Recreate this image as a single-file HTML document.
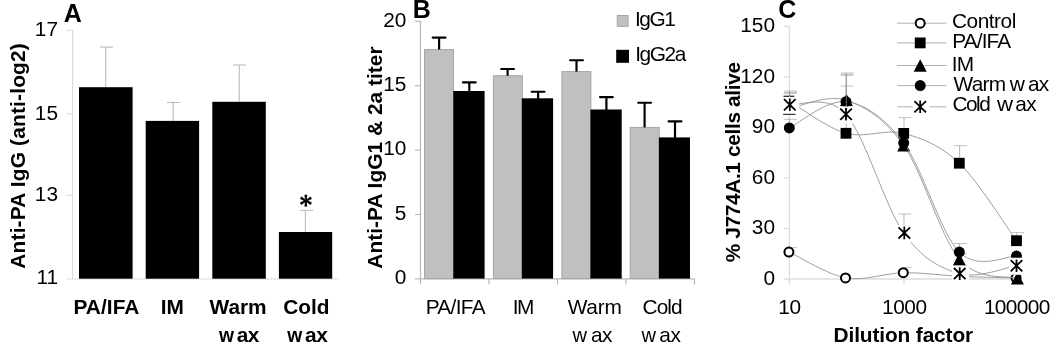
<!DOCTYPE html>
<html lang="en"><head><meta charset="utf-8"><title>Figure</title>
<style>
html,body{margin:0;padding:0;background:#fff;}
body{width:1050px;height:350px;overflow:hidden;}
svg{display:block;}
text{font-family:"Liberation Sans",Arial,Helvetica,sans-serif;fill:#000;}
</style></head>
<body>
<svg width="1050" height="350" viewBox="0 0 1050 350">
<rect width="1050" height="350" fill="#fff"/>
<line x1="72.6" y1="29.8" x2="72.6" y2="279.5" stroke="#dcdcdc" stroke-width="1.2"/>
<line x1="66.6" y1="279.0" x2="339.0" y2="279.0" stroke="#dcdcdc" stroke-width="1.2"/>
<line x1="66.6" y1="30.3" x2="72.6" y2="30.3" stroke="#dcdcdc" stroke-width="1.2"/>
<text x="58.0" y="35.9" font-size="20.83" text-anchor="end">17</text>
<line x1="66.6" y1="113.9" x2="72.6" y2="113.9" stroke="#dcdcdc" stroke-width="1.2"/>
<text x="58.0" y="119.5" font-size="20.83" text-anchor="end">15</text>
<line x1="66.6" y1="195.3" x2="72.6" y2="195.3" stroke="#dcdcdc" stroke-width="1.2"/>
<text x="58.0" y="200.9" font-size="20.83" text-anchor="end">13</text>
<text x="58.0" y="284.3" font-size="20.83" text-anchor="end">11</text>
<line x1="105.7" y1="47.1" x2="105.7" y2="87.2" stroke="#bcbcbc" stroke-width="1.1"/>
<line x1="100.0" y1="47.1" x2="113.0" y2="47.1" stroke="#bcbcbc" stroke-width="1.1"/>
<rect x="79.00" y="87.20" width="53.60" height="191.50" fill="#000"/>
<line x1="173.2" y1="102.5" x2="173.2" y2="120.9" stroke="#bcbcbc" stroke-width="1.1"/>
<line x1="166.9" y1="102.5" x2="179.6" y2="102.5" stroke="#bcbcbc" stroke-width="1.1"/>
<rect x="145.70" y="120.90" width="53.40" height="157.80" fill="#000"/>
<line x1="239.3" y1="65.0" x2="239.3" y2="101.8" stroke="#bcbcbc" stroke-width="1.1"/>
<line x1="233.0" y1="65.0" x2="246.0" y2="65.0" stroke="#bcbcbc" stroke-width="1.1"/>
<rect x="212.30" y="101.80" width="53.50" height="176.90" fill="#000"/>
<line x1="305.4" y1="210.4" x2="305.4" y2="232.0" stroke="#bcbcbc" stroke-width="1.1"/>
<line x1="300.2" y1="210.4" x2="313.0" y2="210.4" stroke="#bcbcbc" stroke-width="1.1"/>
<rect x="278.90" y="232.00" width="53.30" height="46.70" fill="#000"/>
<text x="73.47" y="314.3" font-size="20.83" font-weight="bold" letter-spacing="0.058">PA/IFA</text>
<text x="160.65" y="314.3" font-size="20.83" font-weight="bold" letter-spacing="0.153">IM</text>
<text x="209.54" y="314.3" font-size="20.83" font-weight="bold" letter-spacing="-0.027">Warm</text>
<text x="283.28" y="314.3" font-size="20.83" font-weight="bold" letter-spacing="-0.060">Cold</text>
<text x="218.9" y="342.1" font-size="20.83" font-weight="bold"><tspan x="218.9" textLength="15.0" lengthAdjust="spacingAndGlyphs">w</tspan><tspan x="236.7" letter-spacing="-0.4">ax</tspan></text>
<text x="287.3" y="342.1" font-size="20.83" font-weight="bold"><tspan x="287.3" textLength="15.0" lengthAdjust="spacingAndGlyphs">w</tspan><tspan x="305.1" letter-spacing="-0.4">ax</tspan></text>
<text transform="translate(24.8 268.67) rotate(-90)" font-size="20.83" font-weight="bold" letter-spacing="0.200">Anti-PA IgG (anti-log2)</text>
<text x="63.69" y="22.4" font-size="25" font-weight="bold">A</text>
<text x="305.8" y="213.2" font-size="23.5" font-weight="bold" text-anchor="middle" stroke="#000" stroke-width="0.5" style="font-family:'DejaVu Serif',serif">*</text>
<line x1="420.5" y1="20.9" x2="420.5" y2="284.6" stroke="#b8b8b8" stroke-width="1.2"/>
<line x1="415.0" y1="278.8" x2="694.5" y2="278.8" stroke="#b8b8b8" stroke-width="1.2"/>
<text x="406.4" y="284.2" font-size="20.83" text-anchor="end">0</text>
<line x1="415.0" y1="214.52499999999998" x2="420.5" y2="214.52499999999998" stroke="#b8b8b8" stroke-width="1.2"/>
<text x="406.4" y="219.825" font-size="20.83" text-anchor="end">5</text>
<line x1="415.0" y1="150.14999999999998" x2="420.5" y2="150.14999999999998" stroke="#b8b8b8" stroke-width="1.2"/>
<text x="406.4" y="155.45" font-size="20.83" text-anchor="end">10</text>
<line x1="415.0" y1="85.77499999999998" x2="420.5" y2="85.77499999999998" stroke="#b8b8b8" stroke-width="1.2"/>
<text x="406.4" y="91.07499999999997" font-size="20.83" text-anchor="end">15</text>
<line x1="415.0" y1="21.399999999999977" x2="420.5" y2="21.399999999999977" stroke="#b8b8b8" stroke-width="1.2"/>
<text x="406.4" y="26.699999999999978" font-size="20.83" text-anchor="end">20</text>
<line x1="489.0" y1="278.8" x2="489.0" y2="284.6" stroke="#b8b8b8" stroke-width="1.2"/>
<line x1="557.5" y1="278.8" x2="557.5" y2="284.6" stroke="#b8b8b8" stroke-width="1.2"/>
<line x1="626.0" y1="278.8" x2="626.0" y2="284.6" stroke="#b8b8b8" stroke-width="1.2"/>
<line x1="694.5" y1="278.8" x2="694.5" y2="284.6" stroke="#b8b8b8" stroke-width="1.2"/>
<rect x="424.50" y="49.50" width="29.00" height="229.10" fill="#c0c0c0" stroke="#a6a6a6" stroke-width="1"/>
<rect x="453.30" y="91.00" width="31.30" height="187.60" fill="#000"/>
<line x1="439.1" y1="37.6" x2="439.1" y2="49.5" stroke="#000" stroke-width="2.2"/>
<line x1="432.70" y1="37.6" x2="445.50" y2="37.6" stroke="#000" stroke-width="2.1" stroke-linecap="round"/>
<line x1="469.3" y1="82.4" x2="469.3" y2="91.5" stroke="#000" stroke-width="2.2"/>
<line x1="462.90" y1="82.4" x2="475.70" y2="82.4" stroke="#000" stroke-width="2.1" stroke-linecap="round"/>
<rect x="493.40" y="75.70" width="29.00" height="202.90" fill="#c0c0c0" stroke="#a6a6a6" stroke-width="1"/>
<rect x="521.80" y="98.30" width="31.30" height="180.30" fill="#000"/>
<line x1="507.6" y1="69.0" x2="507.6" y2="75.7" stroke="#000" stroke-width="2.2"/>
<line x1="501.20" y1="69.0" x2="514.00" y2="69.0" stroke="#000" stroke-width="2.1" stroke-linecap="round"/>
<line x1="538.1" y1="91.7" x2="538.1" y2="98.8" stroke="#000" stroke-width="2.2"/>
<line x1="531.70" y1="91.7" x2="544.50" y2="91.7" stroke="#000" stroke-width="2.1" stroke-linecap="round"/>
<rect x="561.90" y="71.60" width="29.00" height="207.00" fill="#c0c0c0" stroke="#a6a6a6" stroke-width="1"/>
<rect x="590.40" y="109.50" width="31.30" height="169.10" fill="#000"/>
<line x1="576.5" y1="60.2" x2="576.5" y2="71.6" stroke="#000" stroke-width="2.2"/>
<line x1="570.10" y1="60.2" x2="582.90" y2="60.2" stroke="#000" stroke-width="2.1" stroke-linecap="round"/>
<line x1="606.4" y1="97.1" x2="606.4" y2="110.0" stroke="#000" stroke-width="2.2"/>
<line x1="600.00" y1="97.1" x2="612.80" y2="97.1" stroke="#000" stroke-width="2.1" stroke-linecap="round"/>
<rect x="630.20" y="127.40" width="29.00" height="151.20" fill="#c0c0c0" stroke="#a6a6a6" stroke-width="1"/>
<rect x="658.90" y="137.40" width="31.10" height="141.20" fill="#000"/>
<line x1="644.6" y1="102.8" x2="644.6" y2="127.4" stroke="#000" stroke-width="2.2"/>
<line x1="638.20" y1="102.8" x2="651.00" y2="102.8" stroke="#000" stroke-width="2.1" stroke-linecap="round"/>
<line x1="675.0" y1="121.4" x2="675.0" y2="137.9" stroke="#000" stroke-width="2.2"/>
<line x1="668.60" y1="121.4" x2="681.40" y2="121.4" stroke="#000" stroke-width="2.1" stroke-linecap="round"/>
<text x="425.72" y="313.6" font-size="20.83" letter-spacing="-0.693">PA/IFA</text>
<text x="512.86" y="313.6" font-size="20.83" letter-spacing="-1.584">IM</text>
<text x="567.64" y="313.6" font-size="20.83" letter-spacing="-0.183">Warm</text>
<text x="642.55" y="313.6" font-size="20.83" letter-spacing="-0.912">Cold</text>
<text x="572.6" y="341.6" font-size="20.83"><tspan x="572.6" textLength="14.5" lengthAdjust="spacingAndGlyphs">w</tspan><tspan x="590.9" letter-spacing="-0.5">ax</tspan></text>
<text x="641.4" y="341.6" font-size="20.83"><tspan x="641.4" textLength="14.5" lengthAdjust="spacingAndGlyphs">w</tspan><tspan x="659.3" letter-spacing="-0.5">ax</tspan></text>
<text transform="translate(382.1 268.63) rotate(-90)" font-size="20.83" font-weight="bold" letter-spacing="0.052">Anti-PA IgG1 &amp; 2a titer</text>
<text x="412.83" y="17.7" font-size="25" font-weight="bold">B</text>
<rect x="617.30" y="15.50" width="10.80" height="10.80" fill="#c0c0c0" stroke="#a6a6a6" stroke-width="1"/>
<rect x="616.20" y="49.80" width="12.80" height="13.00" fill="#000"/>
<text x="634.92" y="26.0" font-size="20.83" letter-spacing="-1.371">IgG1</text>
<text x="635.16" y="61.0" font-size="20.83" letter-spacing="-1.384">IgG2a</text>
<line x1="789.4" y1="26.0" x2="789.4" y2="284.6" stroke="#dcdcdc" stroke-width="1.3"/>
<line x1="783.8" y1="279.0" x2="1019.0" y2="279.0" stroke="#dcdcdc" stroke-width="1.3"/>
<text x="775.0" y="284.5" font-size="20.83" text-anchor="end">0</text>
<line x1="783.8" y1="228.5001" x2="789.4" y2="228.5001" stroke="#dcdcdc" stroke-width="1.3"/>
<text x="775.0" y="234.0001" font-size="20.83" text-anchor="end">30</text>
<line x1="783.8" y1="178.0002" x2="789.4" y2="178.0002" stroke="#dcdcdc" stroke-width="1.3"/>
<text x="775.0" y="183.5002" font-size="20.83" text-anchor="end">60</text>
<line x1="783.8" y1="127.50030000000001" x2="789.4" y2="127.50030000000001" stroke="#dcdcdc" stroke-width="1.3"/>
<text x="775.0" y="133.0003" font-size="20.83" text-anchor="end">90</text>
<line x1="783.8" y1="77.00040000000001" x2="789.4" y2="77.00040000000001" stroke="#dcdcdc" stroke-width="1.3"/>
<text x="775.0" y="82.50040000000001" font-size="20.83" text-anchor="end">120</text>
<line x1="783.8" y1="26.500499999999988" x2="789.4" y2="26.500499999999988" stroke="#dcdcdc" stroke-width="1.3"/>
<text x="775.0" y="32.00049999999999" font-size="20.83" text-anchor="end">150</text>
<line x1="904.0" y1="279.0" x2="904.0" y2="284.6" stroke="#dcdcdc" stroke-width="1.3"/>
<line x1="1018.6" y1="279.0" x2="1018.6" y2="284.6" stroke="#dcdcdc" stroke-width="1.3"/>
<text x="778.14" y="314.0" font-size="20.83" letter-spacing="-0.189">10</text>
<text x="882.02" y="314.0" font-size="20.83" letter-spacing="-0.414">1000</text>
<text x="983.9" y="314.0" font-size="20.83" letter-spacing="-0.620">100000</text>
<text x="833.61" y="342.0" font-size="20.83" font-weight="bold" letter-spacing="-0.119">Dilution factor</text>
<text transform="translate(739.9 262.33) rotate(-90)" font-size="20.83" font-weight="bold" letter-spacing="-0.347">% J774A.1 cells alive</text>
<text x="778.3" y="18.2" font-size="25" font-weight="bold">C</text>
<path d="M789.3,252.1 C798.8,256.4 826.9,274.5 846.0,277.9 C865.1,281.3 884.8,273.0 903.7,272.7 C922.6,272.4 940.5,275.4 959.3,276.3 C978.1,277.2 1007.0,277.7 1016.5,278.0" fill="none" stroke="#949494" stroke-width="0.9"/>
<line x1="789.5999999999999" y1="247.6" x2="789.5999999999999" y2="252.1" stroke="#9a9a9a" stroke-width="0.7"/>
<line x1="789.3" y1="247.6" x2="796.9" y2="247.6" stroke="#909090" stroke-width="0.55"/>
<line x1="904.0" y1="267.6" x2="904.0" y2="272.7" stroke="#9a9a9a" stroke-width="0.7"/>
<line x1="903.7" y1="267.6" x2="911.3000000000001" y2="267.6" stroke="#909090" stroke-width="0.55"/>
<circle cx="788.9" cy="252.1" r="4.5" fill="#fff" stroke="#000" stroke-width="2"/>
<circle cx="845.5" cy="277.9" r="4.5" fill="#fff" stroke="#000" stroke-width="2"/>
<circle cx="903.3" cy="272.7" r="4.5" fill="#fff" stroke="#000" stroke-width="2"/>
<circle cx="959.3" cy="276.3" r="4.5" fill="#fff" stroke="#000" stroke-width="2"/>
<circle cx="1016.1" cy="278.0" r="4.5" fill="#fff" stroke="#000" stroke-width="2"/>
<path d="M789.3,101.1 C798.8,106.5 826.9,127.9 846.0,133.3 C865.1,138.7 884.8,128.4 903.7,133.4 C922.6,138.4 940.5,145.3 959.3,163.2 C978.1,181.1 1007.0,227.8 1016.5,240.7" fill="none" stroke="#949494" stroke-width="0.9"/>
<line x1="789.5999999999999" y1="91.1" x2="789.5999999999999" y2="101.1" stroke="#9a9a9a" stroke-width="0.7"/>
<line x1="784.0999999999999" y1="91.1" x2="796.9" y2="91.1" stroke="#909090" stroke-width="0.55"/>
<line x1="846.3" y1="86.1" x2="846.3" y2="133.3" stroke="#9a9a9a" stroke-width="0.7"/>
<line x1="840.8" y1="86.1" x2="853.6" y2="86.1" stroke="#909090" stroke-width="0.55"/>
<line x1="904.0" y1="117.6" x2="904.0" y2="133.4" stroke="#9a9a9a" stroke-width="0.7"/>
<line x1="898.5" y1="117.6" x2="911.3000000000001" y2="117.6" stroke="#909090" stroke-width="0.55"/>
<line x1="959.5999999999999" y1="145.7" x2="959.5999999999999" y2="163.2" stroke="#9a9a9a" stroke-width="0.7"/>
<line x1="954.0999999999999" y1="145.7" x2="966.9" y2="145.7" stroke="#909090" stroke-width="0.55"/>
<line x1="1016.8" y1="232.6" x2="1016.8" y2="240.7" stroke="#9a9a9a" stroke-width="0.7"/>
<line x1="1011.3" y1="232.6" x2="1024.1" y2="232.6" stroke="#909090" stroke-width="0.55"/>
<rect x="783.50" y="95.70" width="10.80" height="10.80" fill="#000"/>
<rect x="840.60" y="127.90" width="10.80" height="10.80" fill="#000"/>
<rect x="898.30" y="128.00" width="10.80" height="10.80" fill="#000"/>
<rect x="953.90" y="157.80" width="10.80" height="10.80" fill="#000"/>
<rect x="1011.10" y="235.30" width="10.80" height="10.80" fill="#000"/>
<path d="M789.3,108.5 C798.8,107.1 826.9,93.9 846.0,100.1 C865.1,106.2 884.8,118.9 903.7,145.4 C922.6,171.9 940.5,237.0 959.3,259.2 C978.1,281.3 1007.0,275.1 1016.5,278.3" fill="none" stroke="#949494" stroke-width="0.9"/>
<line x1="789.5999999999999" y1="92.4" x2="789.5999999999999" y2="108.5" stroke="#9a9a9a" stroke-width="0.7"/>
<line x1="784.0999999999999" y1="92.4" x2="796.9" y2="92.4" stroke="#909090" stroke-width="0.55"/>
<line x1="846.3" y1="75.4" x2="846.3" y2="100.1" stroke="#9a9a9a" stroke-width="0.7"/>
<line x1="840.8" y1="75.4" x2="853.6" y2="75.4" stroke="#909090" stroke-width="0.55"/>
<line x1="959.5999999999999" y1="254.0" x2="959.5999999999999" y2="259.2" stroke="#9a9a9a" stroke-width="0.7"/>
<line x1="954.0999999999999" y1="254.0" x2="966.9" y2="254.0" stroke="#909090" stroke-width="0.55"/>
<path d="M789.3,102.2 L795.8,114.7 L782.8,114.7 Z" fill="#000"/>
<path d="M846.5,93.8 L853.0,106.3 L840.0,106.3 Z" fill="#000"/>
<path d="M903.7,139.1 L910.2,151.6 L897.2,151.6 Z" fill="#000"/>
<path d="M959.3,252.89999999999998 L965.8,265.4 L952.8,265.4 Z" fill="#000"/>
<path d="M1017.4,272.0 L1023.9,284.5 L1010.9,284.5 Z" fill="#000"/>
<path d="M789.3,127.9 C798.8,123.5 826.9,99.2 846.0,101.7 C865.1,104.2 884.8,117.8 903.7,142.9 C922.6,168.0 940.5,233.2 959.3,252.1 C978.1,271.0 1007.0,255.4 1016.5,256.1" fill="none" stroke="#949494" stroke-width="0.9"/>
<line x1="789.5999999999999" y1="119.3" x2="789.5999999999999" y2="127.9" stroke="#9a9a9a" stroke-width="0.7"/>
<line x1="784.0999999999999" y1="119.3" x2="796.9" y2="119.3" stroke="#909090" stroke-width="0.55"/>
<line x1="846.3" y1="73.0" x2="846.3" y2="101.7" stroke="#9a9a9a" stroke-width="0.7"/>
<line x1="840.8" y1="73.0" x2="853.6" y2="73.0" stroke="#909090" stroke-width="0.55"/>
<line x1="959.5999999999999" y1="243.6" x2="959.5999999999999" y2="252.1" stroke="#9a9a9a" stroke-width="0.7"/>
<line x1="954.0999999999999" y1="243.6" x2="966.9" y2="243.6" stroke="#909090" stroke-width="0.55"/>
<circle cx="789.3" cy="127.9" r="5.5" fill="#000"/>
<circle cx="846.0" cy="101.7" r="5.5" fill="#000"/>
<circle cx="903.7" cy="142.9" r="5.5" fill="#000"/>
<circle cx="959.3" cy="252.1" r="5.5" fill="#000"/>
<circle cx="1016.5" cy="256.1" r="5.5" fill="#000"/>
<path d="M789.3,104.7 C798.8,106.3 826.9,92.9 846.0,114.3 C865.1,135.7 884.8,206.3 903.7,232.9 C922.6,259.4 940.5,268.1 959.3,273.6 C978.1,279.1 1007.0,267.0 1016.5,265.7" fill="none" stroke="#949494" stroke-width="0.9"/>
<line x1="789.5999999999999" y1="93.4" x2="789.5999999999999" y2="104.7" stroke="#9a9a9a" stroke-width="0.7"/>
<line x1="784.0999999999999" y1="93.4" x2="796.9" y2="93.4" stroke="#909090" stroke-width="0.55"/>
<line x1="846.3" y1="74.2" x2="846.3" y2="114.3" stroke="#9a9a9a" stroke-width="0.7"/>
<line x1="840.8" y1="74.2" x2="853.6" y2="74.2" stroke="#909090" stroke-width="0.55"/>
<line x1="904.0" y1="214.0" x2="904.0" y2="232.9" stroke="#9a9a9a" stroke-width="0.7"/>
<line x1="898.5" y1="214.0" x2="911.3000000000001" y2="214.0" stroke="#909090" stroke-width="0.55"/>
<line x1="1016.8" y1="258.3" x2="1016.8" y2="265.7" stroke="#9a9a9a" stroke-width="0.7"/>
<line x1="1011.3" y1="258.3" x2="1024.1" y2="258.3" stroke="#909090" stroke-width="0.55"/>
<rect x="782.20" y="96.80" width="17.00" height="17.00" fill="#fff"/>
<path d="M784.00,99.10 L795.60,110.30 M795.60,99.10 L784.00,110.30 M789.8,98.40 L789.8,111.00" stroke="#000" stroke-width="1.8" fill="none"/>
<rect x="838.40" y="106.40" width="17.00" height="17.00" fill="#fff"/>
<path d="M840.20,108.70 L851.80,119.90 M851.80,108.70 L840.20,119.90 M846.0,108.00 L846.0,120.60" stroke="#000" stroke-width="1.8" fill="none"/>
<rect x="896.70" y="225.00" width="17.00" height="17.00" fill="#fff"/>
<path d="M898.50,227.30 L910.10,238.50 M910.10,227.30 L898.50,238.50 M904.3,226.60 L904.3,239.20" stroke="#000" stroke-width="1.8" fill="none"/>
<rect x="952.10" y="265.70" width="17.00" height="17.00" fill="#fff"/>
<path d="M953.90,268.00 L965.50,279.20 M965.50,268.00 L953.90,279.20 M959.7,267.30 L959.7,279.90" stroke="#000" stroke-width="1.8" fill="none"/>
<rect x="1008.90" y="257.80" width="17.00" height="17.00" fill="#fff"/>
<path d="M1010.70,260.10 L1022.30,271.30 M1022.30,260.10 L1010.70,271.30 M1016.5,259.40 L1016.5,272.00" stroke="#000" stroke-width="1.8" fill="none"/>
<line x1="897.0" y1="23.2" x2="946.4" y2="23.2" stroke="#b0b0b0" stroke-width="1"/>
<circle cx="920.2" cy="23.2" r="4.5" fill="#fff" stroke="#000" stroke-width="2"/>
<text x="952.04" y="27.9" font-size="20.83" letter-spacing="-0.478">Control</text>
<line x1="897.0" y1="42.9" x2="946.4" y2="42.9" stroke="#b0b0b0" stroke-width="1"/>
<rect x="914.80" y="37.50" width="10.80" height="10.80" fill="#000"/>
<text x="952.21" y="48.4" font-size="20.83" letter-spacing="-0.849">PA/IFA</text>
<line x1="897.0" y1="65.5" x2="946.4" y2="65.5" stroke="#b0b0b0" stroke-width="1"/>
<path d="M920.2,59.2 L926.7,71.7 L913.7,71.7 Z" fill="#000"/>
<text x="951.67" y="70.6" font-size="20.83" letter-spacing="-0.594">IM</text>
<line x1="897.0" y1="85.6" x2="946.4" y2="85.6" stroke="#b0b0b0" stroke-width="1"/>
<circle cx="920.2" cy="85.6" r="5.5" fill="#000"/>
<text x="953.49" y="90.5" font-size="20.83" letter-spacing="-0.726">Warm <tspan x="1009.8" textLength="14.4" lengthAdjust="spacingAndGlyphs">w</tspan><tspan x="1027.9" letter-spacing="-0.7">ax</tspan></text>
<line x1="897.0" y1="106.8" x2="946.4" y2="106.8" stroke="#b0b0b0" stroke-width="1"/>
<rect x="912.60" y="98.90" width="17.00" height="17.00" fill="#fff"/>
<path d="M914.40,101.20 L926.00,112.40 M926.00,101.20 L914.40,112.40 M920.2,100.50 L920.2,113.10" stroke="#000" stroke-width="1.8" fill="none"/>
<text x="952.5" y="111.3" font-size="20.83" letter-spacing="-1.541">Cold <tspan x="997.0" textLength="14.4" lengthAdjust="spacingAndGlyphs">w</tspan><tspan x="1015.3" letter-spacing="-0.7">ax</tspan></text>
</svg>
</body></html>
